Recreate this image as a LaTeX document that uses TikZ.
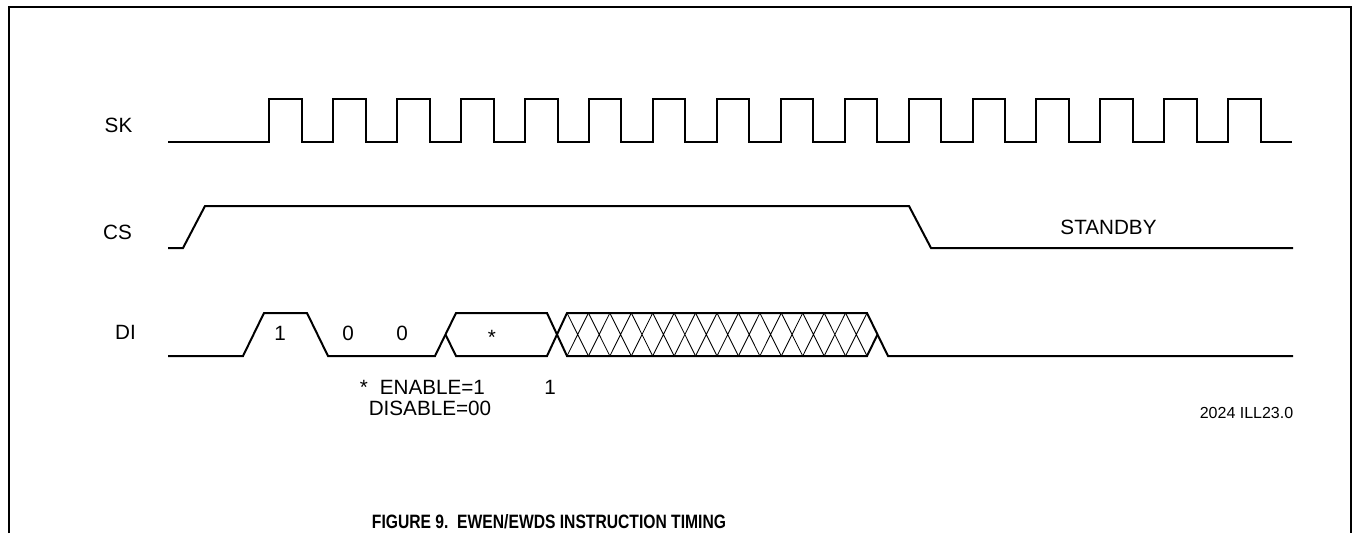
\documentclass[tikz,border=0pt]{standalone}
\usepackage{fontspec}
\setmainfont{Liberation Sans}
\usepackage{tikz}

\begin{document}
\begin{tikzpicture} [x = 0.75pt, y = -0.75pt,
    wave/.style = {line width = 1.5pt},
    hatch/.style = {line width = 0.65pt},
    frame/.style = {line width = 1pt},
    lbl/.style = {inner sep = 0pt, font = \fontsize{15.5}{18}\selectfont},
    note/.style = {inner sep = 0pt, font = \fontsize{12}{14}\selectfont},
    caption/.style = {inner sep = 0pt, font = \fontsize{14.5}{16}\selectfont\bfseries}]

\useasboundingbox (0,0) rectangle (1354,533);
\draw [frame] (9,533) -- (9,7) -- (1351,7) -- (1351,533);

\node (sk) [lbl, anchor = base] at (118.5,132) {SK};
\node (cs) [lbl, anchor = base] at (117.5,239) {CS};
\node (di) [lbl, anchor = base] at (125.5,339) {DI};

\draw [wave] (168,142) -- (269.3,142)
    \foreach \k in {0,...,15} { -- ++(0,-43) -- ++(32.5,0) -- ++(0,43) -- ++(31.43,0) };

\draw [wave] (168,248) -- (183,248) -- (205,206) -- (909,206) -- (931,248) -- (1293,248);

\draw [wave] (168,356) -- (243,356) -- (264,313) -- (307,313) -- (328,356) -- (435,356)
    -- (456,313) -- (547,313) -- (567,356) -- (867,356) -- (877.5,334.5);
\draw [wave] (445.5,334.5) -- (456,356) -- (547,356) -- (567,313) -- (867,313)
    -- (888,356) -- (1293,356);
\foreach \k in {0,...,13}
    \draw [hatch] ({567+21.43*\k},313) -- ({567+21.43*(\k+1)},356)
                  ({567+21.43*(\k+1)},313) -- ({567+21.43*\k},356);

\node (b1) [lbl, anchor = base] at (280,340) {1};
\node (b2) [lbl, anchor = base] at (348,340) {0};
\node (b3) [lbl, anchor = base] at (402,340) {0};
\node (b4) [lbl, anchor = base] at (492,344) {*};

\node (enable) [lbl, anchor = base west] at (359.5,394) {*\hspace{9pt}ENABLE=1};
\node (disable) [lbl, anchor = base west] at (368.5,415) {DISABLE=00};
\node (one) [lbl, anchor = base] at (550,394) {1};

\node (standby) [lbl, anchor = base] at (1108.5,234) {STANDBY};
\node (ill) [note, anchor = base east] at (1293.5,418) {2024 ILL23.0};

\node (fig) [caption, anchor = base] at (549,528)
    {\scalebox{0.81}[1]{FIGURE 9.\ \ EWEN/EWDS INSTRUCTION TIMING}};
\end{tikzpicture}
\end{document}
